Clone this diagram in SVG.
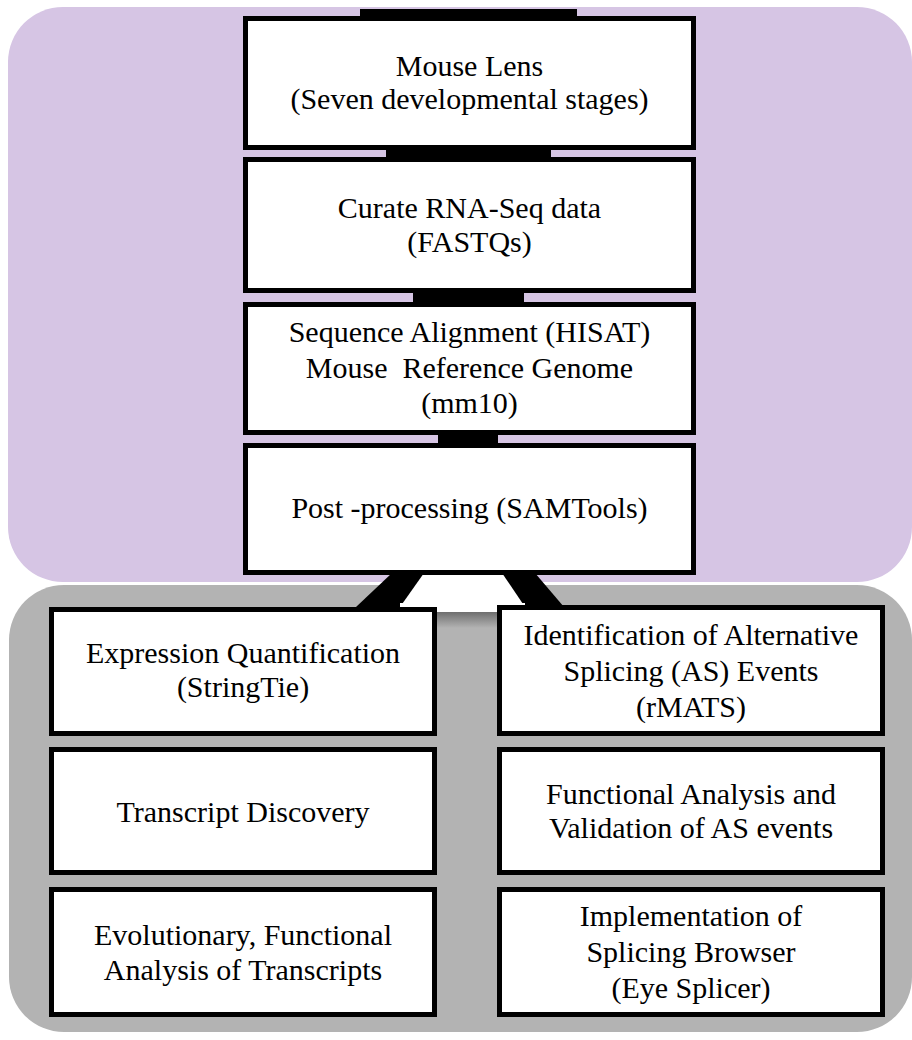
<svg xmlns="http://www.w3.org/2000/svg" width="912" height="1040" viewBox="0 0 912 1040">
  <defs>
    <style>
      .box { fill: #ffffff; stroke: #000000; stroke-width: 5; }
      .lbl { font-family: "Liberation Serif", "Times New Roman", serif; font-size: 30px; fill: #000000; text-anchor: middle; white-space: pre; }
      .bar { fill: #000000; }
    </style>
    <linearGradient id="shadow" x1="0" y1="0" x2="0" y2="1">
      <stop offset="0" stop-color="#6e6e6e"/>
      <stop offset="1" stop-color="#b3b3b3"/>
    </linearGradient>
  </defs>
  <rect x="0" y="0" width="912" height="1040" fill="#ffffff"/>
  <g id="background">
    <rect x="8" y="7" width="904" height="575" rx="55" ry="55" fill="#d6c5e4"/>
    <rect x="9" y="585" width="903" height="447" rx="55" ry="55" fill="#b3b3b3"/>
  </g>
  <g id="connectors">
    <rect class="bar" x="360" y="9" width="217" height="10"/>
    <rect class="bar" x="386" y="148" width="165" height="11"/>
    <rect class="bar" x="413" y="291" width="111" height="13"/>
    <rect class="bar" x="438" y="433" width="60" height="12"/>
    <polygon class="bar" points="392,573 535,573 564,607 356,607"/>
    <polygon fill="#ffffff" points="424,573 502,573 525,607 400,607"/>
    <rect x="400" y="603" width="125" height="9" fill="#ffffff"/>
    <rect x="437" y="612" width="60" height="16" fill="url(#shadow)"/>
  </g>
  <g id="n1">
    <rect class="box" x="245.5" y="18.5" width="448" height="129"/>
    <text class="lbl" x="469.5" y="76">Mouse Lens</text>
    <text class="lbl" x="469.5" y="109">(Seven developmental stages)</text>
  </g>
  <g id="n2">
    <rect class="box" x="245.5" y="159.5" width="448" height="131"/>
    <text class="lbl" x="469.5" y="218">Curate RNA-Seq data</text>
    <text class="lbl" x="469.5" y="252">(FASTQs)</text>
  </g>
  <g id="n3">
    <rect class="box" x="245.5" y="304.5" width="448" height="128"/>
    <text class="lbl" x="469.5" y="342">Sequence Alignment (HISAT)</text>
    <text class="lbl" x="469.5" y="378">Mouse  Reference Genome</text>
    <text class="lbl" x="469.5" y="413">(mm10)</text>
  </g>
  <g id="n4">
    <rect class="box" x="245.5" y="445.5" width="448" height="127"/>
    <text class="lbl" x="469.5" y="518">Post -processing (SAMTools)</text>
  </g>
  <g id="l1">
    <rect class="box" x="51.5" y="609.5" width="383" height="124"/>
    <text class="lbl" x="243" y="663">Expression Quantification</text>
    <text class="lbl" x="243" y="697">(StringTie)</text>
  </g>
  <g id="r1">
    <rect class="box" x="499.5" y="607.5" width="383" height="126"/>
    <text class="lbl" x="691" y="645">Identification of Alternative</text>
    <text class="lbl" x="691" y="681">Splicing (AS) Events</text>
    <text class="lbl" x="691" y="717">(rMATS)</text>
  </g>
  <g id="l2">
    <rect class="box" x="51.5" y="749.5" width="383" height="123"/>
    <text class="lbl" x="243" y="822">Transcript Discovery</text>
  </g>
  <g id="r2">
    <rect class="box" x="499.5" y="749.5" width="383" height="123"/>
    <text class="lbl" x="691" y="804">Functional Analysis and</text>
    <text class="lbl" x="691" y="838">Validation of AS events</text>
  </g>
  <g id="l3">
    <rect class="box" x="51.5" y="889.5" width="383" height="125"/>
    <text class="lbl" x="243" y="945">Evolutionary, Functional</text>
    <text class="lbl" x="243" y="980">Analysis of Transcripts</text>
  </g>
  <g id="r3">
    <rect class="box" x="499.5" y="889.5" width="383" height="125"/>
    <text class="lbl" x="691" y="926">Implementation of</text>
    <text class="lbl" x="691" y="962">Splicing Browser</text>
    <text class="lbl" x="691" y="998">(Eye Splicer)</text>
  </g>
</svg>
